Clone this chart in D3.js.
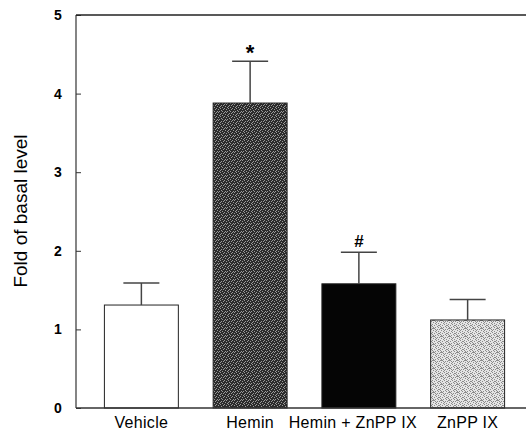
<!DOCTYPE html>
<html>
<head>
<meta charset="utf-8">
<script src="https://cdn.jsdelivr.net/npm/d3@7"></script>
<style>
  html, body { margin: 0; padding: 0; background: #fff; }
  svg { display: block; }
  text { font-family: "Liberation Sans", Arial, sans-serif; fill: #000; }
</style>
</head>
<body>
<svg id="chart" width="526" height="435"></svg>
<script>
// Group names, means, upper error (mean + SEM) and significance marks
const groups = ["Vehicle", "Hemin", "Hemin + ZnPP IX", "ZnPP IX"];
const means = [1.31, 3.88, 1.58, 1.12];
const errTops = [1.59, 4.41, 1.98, 1.38];
const marks = ["", "*", "#", ""];
const fills = ["#ffffff", "url(#darkDots)", "#050505", "url(#lightDots)"];
const yTicks = [0, 1, 2, 3, 4, 5];

const svg = d3.select("#chart");
const plotLeft = 76, plotRight = 526, plotTop = 15, plotBottom = 408;

// Halftone-like textures for the shaded bars (8x8 tiles with scattered dots)
const defs = svg.append("defs");
function texture(id, base, dot, cells) {
  const p = defs.append("pattern").attr("id", id)
    .attr("patternUnits", "userSpaceOnUse").attr("width", 8).attr("height", 8);
  p.append("rect").attr("width", 8).attr("height", 8).attr("fill", base);
  cells.forEach(([px, py]) =>
    p.append("rect").attr("x", px).attr("y", py).attr("width", 1).attr("height", 1).attr("fill", dot));
}
const scatter = [[0,0],[2,0],[5,1],[7,1],[1,2],[3,3],[6,3],[0,4],[4,4],[2,5],[7,5],[5,6],[1,7],[3,7],[6,7],[4,2]];
texture("darkDots", "#2b2b2b", "#9a9a9a", scatter);
texture("lightDots", "#e4e4e4", "#8a8a8a", scatter.concat([[1,0],[6,5],[3,1],[0,6]]));

const y = d3.scaleLinear().domain([0, 5]).range([plotBottom, plotTop]);
const x = d3.scaleBand().domain(groups).range([87, 522])
  .paddingInner(0.32).paddingOuter(0.16);

// Bars
svg.append("g").selectAll("rect").data(groups).join("rect")
  .attr("x", d => x(d))
  .attr("y", (d, i) => y(means[i]))
  .attr("width", x.bandwidth())
  .attr("height", (d, i) => y(0) - y(means[i]))
  .attr("fill", (d, i) => fills[i])
  .attr("stroke", "#222").attr("stroke-width", 1);

// Error bars
const eb = svg.append("g").attr("stroke", "#444").attr("stroke-width", 1.5);
groups.forEach((g, i) => {
  const cx = x(g) + x.bandwidth() / 2;
  eb.append("line").attr("x1", cx).attr("x2", cx)
    .attr("y1", y(means[i])).attr("y2", y(errTops[i]));
  eb.append("line").attr("x1", cx - 18).attr("x2", cx + 18)
    .attr("y1", y(errTops[i])).attr("y2", y(errTops[i]));
});

// Significance marks
svg.append("g").selectAll("text").data(groups).join("text")
  .attr("x", d => x(d) + x.bandwidth() / 2)
  .attr("y", (d, i) => y(errTops[i]) - (marks[i] === "*" ? 1 : 5))
  .attr("text-anchor", "middle")
  .attr("font-size", (d, i) => marks[i] === "*" ? 22 : 17)
  .attr("font-weight", "bold")
  .text((d, i) => marks[i]);

// Y axis with inward ticks
const yAxis = svg.append("g").attr("transform", `translate(${plotLeft},0)`)
  .call(d3.axisRight(y).tickValues(yTicks).tickSize(5).tickFormat(""));
yAxis.select(".domain").remove();
yAxis.selectAll(".tick line").attr("stroke", "#333");
svg.append("g").selectAll("text").data(yTicks).join("text")
  .attr("x", 58).attr("y", d => y(d))
  .attr("dy", "0.35em").attr("text-anchor", "middle")
  .attr("font-size", 14).attr("font-weight", "bold")
  .text(d => d);

// Frame: left, bottom and top lines
svg.append("line").attr("x1", plotLeft).attr("x2", plotLeft).attr("y1", plotTop).attr("y2", plotBottom)
  .attr("stroke", "#333").attr("stroke-width", 1.2);
svg.append("line").attr("x1", plotLeft).attr("x2", plotRight).attr("y1", plotBottom).attr("y2", plotBottom)
  .attr("stroke", "#333").attr("stroke-width", 1.4);
svg.append("line").attr("x1", plotLeft).attr("x2", plotRight).attr("y1", plotTop).attr("y2", plotTop)
  .attr("stroke", "#222").attr("stroke-width", 1.4);

// Category labels
svg.append("g").selectAll("text").data(groups).join("text")
  .attr("x", d => x(d) + x.bandwidth() / 2 + (d === "Hemin + ZnPP IX" ? -6 : 0))
  .attr("y", 428)
  .attr("text-anchor", "middle")
  .attr("font-size", 16)
  .attr("letter-spacing", 0.3)
  .text(d => d);

// Y axis title
svg.append("text")
  .attr("transform", "translate(27,211) rotate(-90)")
  .attr("text-anchor", "middle")
  .attr("font-size", 19)
  .text("Fold of basal level");
</script>
</body>
</html>
